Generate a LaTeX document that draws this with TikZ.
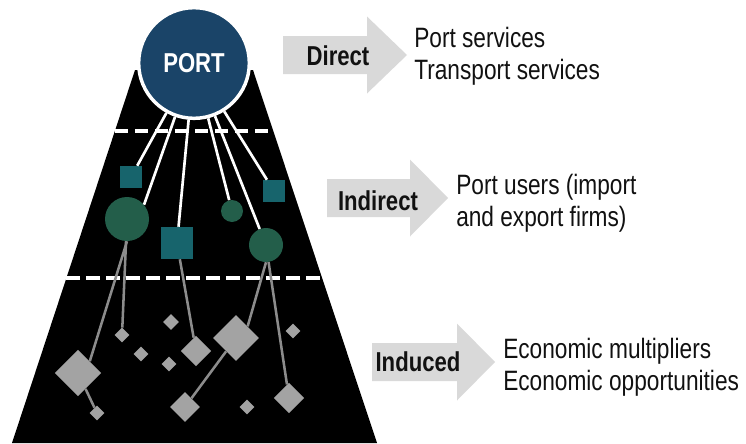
\documentclass[tikz,border=0pt]{standalone}
\usepackage{fontspec}
\newfontfamily\narrowsans{Liberation Sans}[FakeStretch=0.81]
\usetikzlibrary{calc,shapes.geometric}
\definecolor{portblue}{HTML}{1A4468}
\definecolor{userteal}{HTML}{17646C}
\definecolor{usergreen}{HTML}{235E4A}
\definecolor{spingray}{HTML}{A3A3A3}
\definecolor{spinline}{HTML}{8C8C8C}
\definecolor{arrowgray}{HTML}{D9D9D9}
\definecolor{inktext}{HTML}{111111}

\begin{document}
\begin{tikzpicture}[
    x=0.75pt, y=-0.75pt,
    font=\narrowsans\fontsize{21}{24}\selectfont,
    hub/.style={circle, fill=portblue, draw=white, line width=2.6pt,
      minimum size=83pt, inner sep=0pt, text=white,
      font=\narrowsans\bfseries\fontsize{20.5}{24}\selectfont},
    firm/.style={rectangle, fill=userteal, minimum size=#1, inner sep=0pt},
    user/.style={circle, fill=usergreen, minimum size=#1, inner sep=0pt},
    effect/.style={diamond, fill=spingray, minimum size=#1, inner sep=0pt},
    separator/.style={white, line width=2.4pt, dash pattern=on 10pt off 5pt},
    link/.style={white, line width=2pt},
    spin/.style={spinline, line width=1.9pt},
    tierarrow/.style={fill=arrowgray},
    kind/.style={text=inktext, inner sep=0pt,
      font=\narrowsans\bfseries\fontsize{20.5}{24}\selectfont},
    effects/.style={text=inktext, align=left, anchor=west, inner sep=0pt}
  ]
    \useasboundingbox (0,0) rectangle (746,443);

    % impact pyramid
    \coordinate (tl) at (135,70);
    \coordinate (tr) at (253,70);
    \coordinate (br) at (377,443);
    \coordinate (bl) at (12,443);
    \fill[black] (tl) -- (tr) -- (br) -- (bl) -- cycle;
    \draw[separator] ($(tl)!0.1635!(bl)$) -- ($(tr)!0.1635!(br)$);
    \draw[separator] ($(tl)!0.5576!(bl)$) -- ($(tr)!0.5576!(br)$);

    \node[hub] (port) at (194,63) {PORT};

    % port users
    \node[firm=16.5pt] (firma) at (131,177) {};
    \node[firm=24pt] (firmb) at (177,243) {};
    \node[firm=16.5pt] (firmc) at (274,191) {};
    \node[user=33pt] (usera) at (127,219) {};
    \node[user=16.5pt] (userb) at (232,211) {};
    \node[user=25.5pt] (userc) at (266,245) {};

    % induced effects
    \node[effect=35pt] (spina) at (78,373) {};
    \node[effect=11.25pt] (spinb) at (97,413) {};
    \node[effect=11.25pt] (spinc) at (122,335) {};
    \node[effect=23pt] (spind) at (196,351) {};
    \node[effect=34.5pt] (spine) at (236,338) {};
    \node[effect=22.5pt] (spinf) at (185,407) {};
    \node[effect=23pt] (sping) at (289,398) {};
    \node[effect=12pt] (spinh) at (171,322) {};
    \node[effect=11.25pt] (spini) at (141,354) {};
    \node[effect=11.25pt] (spinj) at (169,364) {};
    \node[effect=11.25pt] (spink) at (293,331) {};
    \node[effect=11.25pt] (spinl) at (247,407) {};

    \draw[link] (port) -- (firma);
    \draw[link] (port) -- (usera.40);
    \draw[link] (port) -- (firmb);
    \draw[link] (port) -- (userb);
    \draw[link] (port) -- (userc);
    \draw[link] (port) -- (firmc);

    \draw[spin] (usera.south) -- (spina.north east);
    \draw[spin] (spina) -- (spinb);
    \draw[spin] (usera) -- (spinc);
    \draw[spin] (firmb) -- (spind);
    \draw[spin] (userc.south) -- (spine.north east);
    \draw[spin] (spine) -- (spinf);
    \draw[spin] (userc) -- (sping);

    % effect arrows
    \foreach \x/\b/\t/\y/\lx/\ly/\name/\lab in {
        283/367/407/55/338/56/direct/Direct,
        327/410/448/198/378/201/indirect/Indirect,
        372/457/495/362/418/362/induced/Induced} {
      \fill[tierarrow] (\x,\y-19) -- (\b,\y-19) -- (\b,\y-38.5) -- (\t,\y)
        -- (\b,\y+38.5) -- (\b,\y+19) -- (\x,\y+19) -- cycle;
      \node[kind] (\name) at (\lx,\ly) {\lab};
    }

    \node[effects] (directfx) at (414,56) {Port services\\Transport services};
    \node[effects] (indirectfx) at (456,203) {Port users (import\\and export firms)};
    \node[effects] (inducedfx) at (503,367) {Economic multipliers\\Economic opportunities};
  \end{tikzpicture}
\end{document}
